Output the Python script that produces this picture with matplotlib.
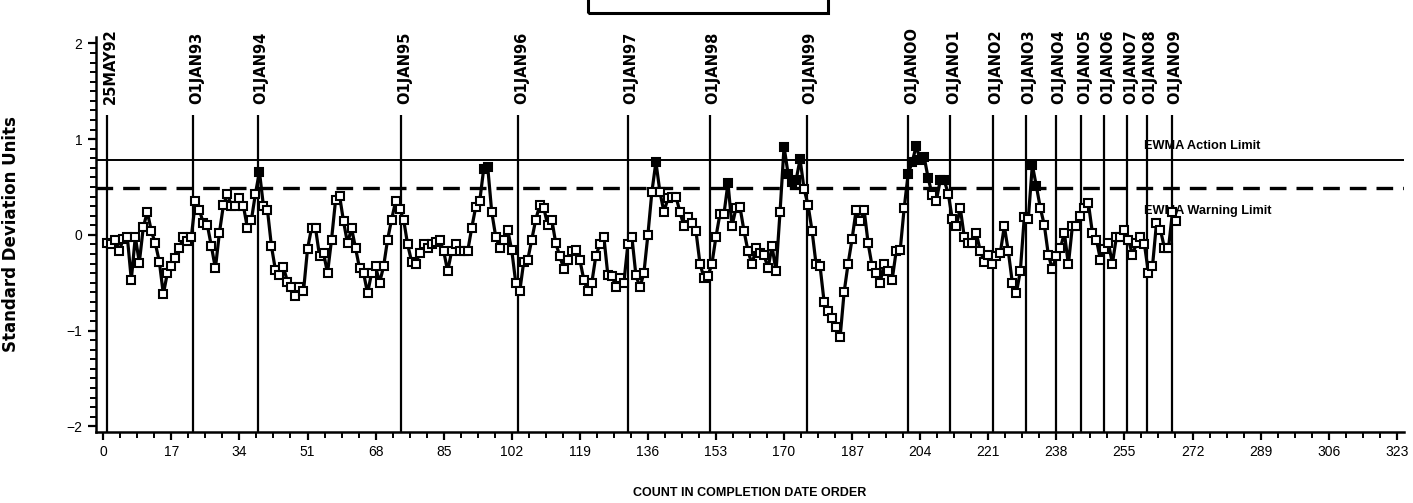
import numpy as np
import matplotlib.pyplot as plt
from matplotlib.patches import Rectangle
from matplotlib.ticker import MultipleLocator

# EWMA values in count order (1..268)
ewma = [
    -0.09, -0.10, -0.05, -0.17, -0.04, -0.02, -0.47, -0.02, -0.29, 0.08,
    0.24, 0.04, -0.09, -0.28, -0.62, -0.40, -0.33, -0.24, -0.14, -0.02,
    -0.06, -0.02, 0.35, 0.26, 0.12, 0.10, -0.12, -0.35, 0.02, 0.31,
    0.43, 0.30, 0.30, 0.38, 0.30, 0.07, 0.16, 0.43, 0.66, 0.30,
    0.26, -0.12, -0.37, -0.42, -0.34, -0.49, -0.55, -0.64, -0.54, -0.59,
    -0.15, 0.07, 0.07, -0.22, -0.19, -0.40, -0.05, 0.36, 0.41, 0.14,
    -0.09, 0.07, -0.14, -0.35, -0.40, -0.61, -0.40, -0.33, -0.50, -0.33,
    -0.05, 0.16, 0.35, 0.27, 0.16, -0.10, -0.28, -0.31, -0.19, -0.10,
    -0.14, -0.10, -0.08, -0.05, -0.17, -0.38, -0.17, -0.10, -0.17, -0.17,
    -0.17, 0.07, 0.29, 0.35, 0.69, 0.71, 0.24, -0.02, -0.14, -0.05,
    0.05, -0.16, -0.50, -0.59, -0.28, -0.26, -0.05, 0.16, 0.31, 0.28,
    0.10, 0.16, -0.09, -0.22, -0.36, -0.26, -0.17, -0.16, -0.26, -0.47,
    -0.59, -0.50, -0.22, -0.10, -0.02, -0.42, -0.43, -0.54, -0.45, -0.50,
    -0.10, -0.02, -0.42, -0.55, -0.40, 0.00, 0.45, 0.76, 0.45, 0.24,
    0.38, 0.40, 0.40, 0.24, 0.09, 0.19, 0.12, 0.04, -0.30, -0.45,
    -0.43, -0.30, -0.02, 0.22, 0.22, 0.54, 0.09, 0.28, 0.29, 0.04,
    -0.17, -0.31, -0.14, -0.19, -0.21, -0.35, -0.12, -0.38, 0.24, 0.92,
    0.64, 0.55, 0.57, 0.79, 0.48, 0.31, 0.04, -0.31, -0.33, -0.70,
    -0.80, -0.87, -0.96, -1.07, -0.60, -0.30, -0.04, 0.26, 0.14, 0.26,
    -0.09, -0.33, -0.40, -0.50, -0.30, -0.38, -0.47, -0.17, -0.16, 0.28,
    0.64, 0.76, 0.93, 0.78, 0.81, 0.59, 0.42, 0.35, 0.57, 0.57,
    0.43, 0.17, 0.09, 0.28, -0.02, -0.09, -0.09, 0.02, -0.17, -0.28,
    -0.21, -0.30, -0.22, -0.19, 0.09, -0.17, -0.50, -0.61, -0.38, 0.19,
    0.17, 0.73, 0.51, 0.28, 0.10, -0.21, -0.36, -0.22, -0.14, 0.02,
    -0.31, 0.09, 0.09, 0.20, 0.28, 0.33, 0.02, -0.05, -0.26, -0.15,
    -0.09, -0.30, -0.02, -0.02, 0.05, -0.05, -0.21, -0.09, -0.02, -0.10,
    -0.40, -0.33, 0.12, 0.05, -0.14, -0.14, 0.24, 0.14,
]
count = np.arange(1, len(ewma) + 1)

action_limit = 0.78
warning_limit = 0.49

date_labels = ["25MAY92", "01JAN93", "01JAN94", "01JAN95", "01JAN96", "01JAN97",
               "01JAN98", "01JAN99", "01JAN00", "01JAN01", "01JAN02", "01JAN03",
               "01JAN04", "01JAN05", "01JAN06", "01JAN07", "01JAN08", "01JAN09"]
date_pos = [0.9, 22.5, 38.6, 74.4, 103.6, 131.0, 151.5, 175.7, 201.0, 211.5,
            222.1, 230.4, 237.8, 244.2, 250.0, 255.7, 260.6, 266.8]

fig = plt.figure(figsize=(14.13, 5.03), dpi=100)
ax = fig.add_axes([0.0677, 0.1412, 0.9259, 0.7858])

# year markers
ax.vlines(date_pos, -2.1, 1.25, color="black", lw=1.6)
for x, lab in zip(date_pos, date_labels):
    ax.text(x + 0.8, 1.37, lab.replace("0", "O"), rotation=90, ha="center", va="bottom",
            fontsize=10.5, fontweight="bold", family="DejaVu Sans")

# limits
ax.axhline(action_limit, color="black", lw=1.4)
ax.axhline(warning_limit, color="black", lw=2.4, ls=(0, (5, 3)))
ax.text(260, action_limit + 0.15, "EWMA Action Limit", fontsize=9.2,
        fontweight="bold", family="Liberation Sans", va="center")
ax.text(260, 0.25, "EWMA Warning Limit", fontsize=9.2,
        fontweight="bold", family="Liberation Sans", va="center")

# series
y = np.array(ewma)
ax.plot(count, y, color="black", lw=2.3, zorder=3)
hi = y > warning_limit
ax.plot(count[~hi], y[~hi], ls="none", marker="s", ms=5.2, mfc="white",
        mec="black", mew=1.5, zorder=4)
ax.plot(count[hi], y[hi], ls="none", marker="s", ms=5.2, mfc="black",
        mec="black", mew=1.5, zorder=4)

ax.set_xlim(-1.9, 324.8)
ax.set_ylim(-2.06, 2.07)
ax.xaxis.set_minor_locator(MultipleLocator(4.25))
ax.yaxis.set_minor_locator(MultipleLocator(0.1))
ax.set_yticks([-2, -1, 0, 1, 2])
ax.set_xticks(np.arange(0, 324, 17))
ax.tick_params(which="major", length=6, width=1.6, labelsize=10, direction="out")
ax.tick_params(which="minor", length=4, width=1.4, direction="out")
for lab in ax.get_xticklabels() + ax.get_yticklabels():
    lab.set_family("Liberation Sans")
for s in ["top", "right"]:
    ax.spines[s].set_visible(False)
for s in ["left", "bottom"]:
    ax.spines[s].set_linewidth(1.8)

ax.set_xlabel("COUNT IN COMPLETION DATE ORDER", fontsize=9, fontweight="bold",
              family="Liberation Sans")
ax.xaxis.set_label_coords(0.5, -0.139)
ax.set_ylabel("Standard Deviation Units", fontsize=12, fontweight="bold")
ax.yaxis.set_label_coords(-0.058, 0.5)

# empty title box clipped at the top edge
fig.patches.append(Rectangle((0.416, 0.974), 0.17, 0.05, transform=fig.transFigure,
                             fill=False, lw=2.2, edgecolor="black"))

fig.savefig("out.png", dpi=100)
